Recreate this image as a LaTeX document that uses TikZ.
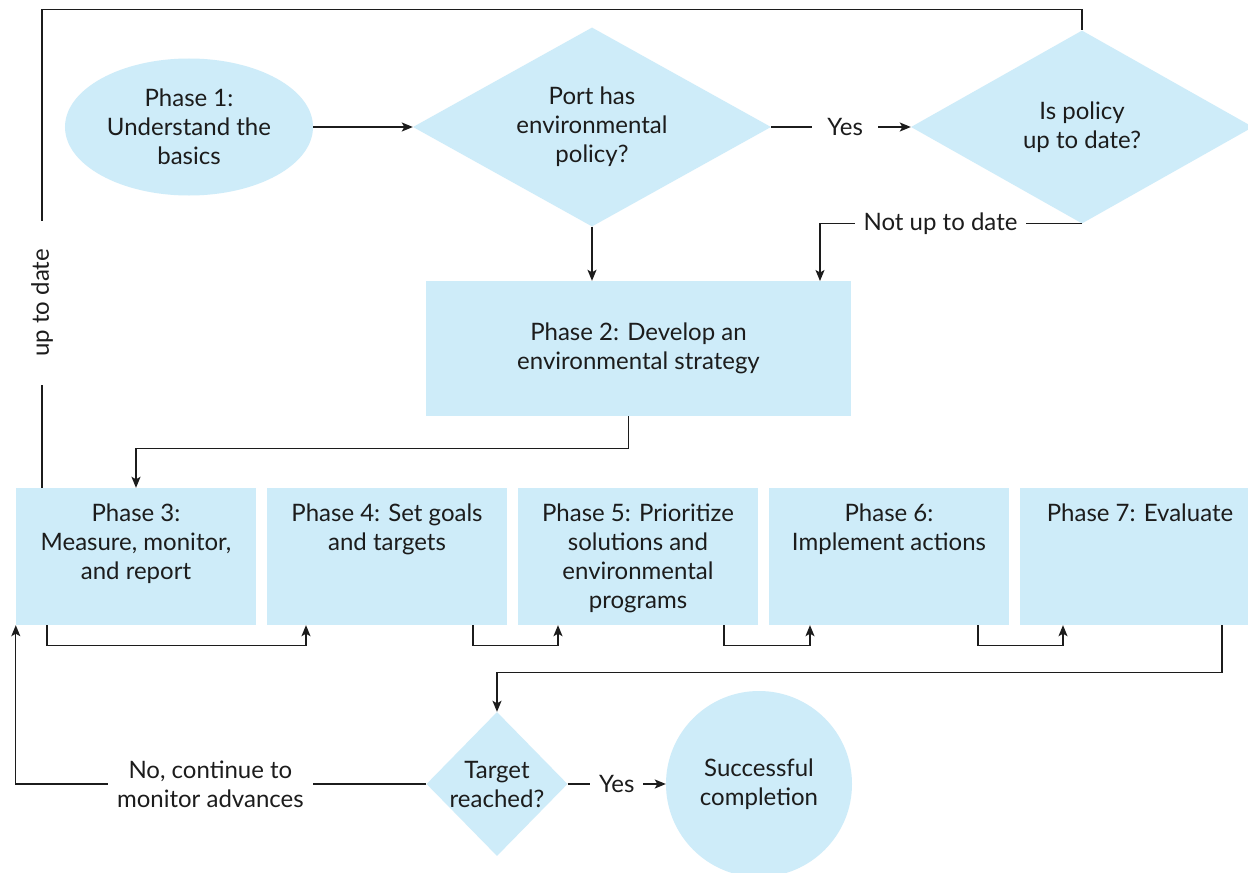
\documentclass[tikz,border=0pt]{standalone}
\usepackage{fontspec}
\setmainfont{Lato}
\usetikzlibrary{shapes.geometric,arrows.meta}
\definecolor{boxblue}{RGB}{206,236,249}
\definecolor{ink}{RGB}{28,28,28}

\begin{document}
\begin{tikzpicture}[x=1bp,y=-1bp,
  every node/.style={font=\fontsize{24bp}{29bp}\selectfont, text=ink, align=center},
  phasebox/.style={rectangle, fill=boxblue, inner sep=0pt, minimum width=240bp, minimum height=137bp},
  boxtext/.style={anchor=north, inner sep=0pt},
  decision/.style={diamond, fill=boxblue, inner sep=0pt},
  startnode/.style={ellipse, fill=boxblue, inner sep=0pt},
  endnode/.style={circle, fill=boxblue, inner sep=0pt},
  lbl/.style={fill=white, inner ysep=2bp},
  link/.style={draw=ink, line width=1.3bp},
  arr/.style={link, -{Stealth[length=11bp,width=9bp,inset=2.5bp]}}
]
\clip (0,0) rectangle (1248,873);
\fill[white] (0,0) rectangle (1248,873);

% shapes
\node[startnode, minimum width=248bp, minimum height=137bp] (p1) at (189,127) {Phase 1:\\Understand the\\basics};
\node[decision, shape aspect=1.8, minimum width=358bp, minimum height=199bp] (d1) at (592,127) {Port has\\environmental\\policy?};
\node[decision, shape aspect=1.77, minimum width=342bp, minimum height=193bp] (d2) at (1082,127) {Is policy\\up to date?};
\node[phasebox, minimum width=425bp, minimum height=135bp] (p2) at (638.5,348.5) {Phase 2: Develop an\\environmental strategy};

\node[phasebox] (p3) at (136,556.5) {};
\node[phasebox] (p4) at (387,556.5) {};
\node[phasebox] (p5) at (638,556.5) {};
\node[phasebox] (p6) at (889,556.5) {};
\node[phasebox] (p7) at (1140,556.5) {};
\node[boxtext] (p3t) at ([yshift=-16bp]p3.north) {Phase 3:\\Measure, monitor,\\and report};
\node[boxtext] (p4t) at ([yshift=-16bp]p4.north) {Phase 4: Set goals\\and targets};
\node[boxtext] (p5t) at ([yshift=-16bp]p5.north) {Phase 5: Prioritize\\solutions and\\environmental\\programs};
\node[boxtext] (p6t) at ([yshift=-16bp]p6.north) {Phase 6:\\Implement actions};
\node[boxtext] (p7t) at ([yshift=-16bp]p7.north) {Phase 7: Evaluate};

\node[decision, minimum width=141bp, minimum height=144bp] (tg) at (497,784) {Target\\reached?};
\node[endnode, minimum size=186bp] (done) at (759,784) {Successful\\completion};

% connectors
\draw[arr] (p1.east) -- (d1.west);
\draw[arr] (d1.east) -- node[lbl, inner xsep=15bp, pos=0.53] {Yes} (d2.west);
\draw[arr] (d1.south) -- (d1.south |- p2.north);
\coordinate (p2in) at (820,281);
\draw[arr] (d2.south) -| node[lbl, inner xsep=9bp, pos=0.27] {Not up to date} (p2in);
\draw[arr] ([xshift=-10bp]p2.south) -- ++(0,32) -| (p3.north);

\draw[arr] ([xshift=-89bp]p3.south) -- ++(0,20) -| ([xshift=-81bp]p4.south);
\draw[arr] ([xshift=86bp]p4.south) -- ++(0,20) -| ([xshift=-80bp]p5.south);
\draw[arr] ([xshift=86bp]p5.south) -- ++(0,20) -| ([xshift=-79bp]p6.south);
\draw[arr] ([xshift=89bp]p6.south) -- ++(0,20) -| ([xshift=-77bp]p7.south);
\draw[arr] ([xshift=82bp]p7.south) -- ++(0,47) -| (tg.north);

\draw[arr] (tg.east) -- node[lbl, inner xsep=9bp] {Yes} (done.west);
\draw[arr] (tg.west) -| node[lbl, inner xsep=9bp, pos=0.263] {No, continue to\\monitor advances} (p3.south west);

\draw[link] ([xshift=-94bp]p3.north) -- node[lbl, rotate=90, inner xsep=28bp, pos=0.387] {up to date} ++(0,-478) -| (d2.north);
\end{tikzpicture}
\end{document}
